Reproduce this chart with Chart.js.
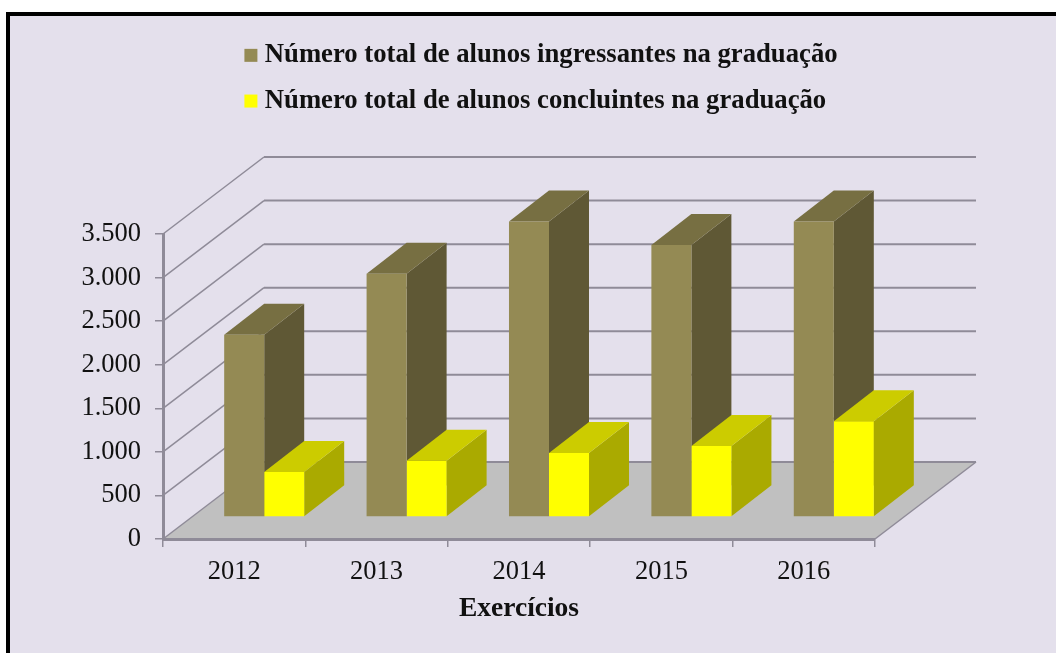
<!DOCTYPE html>
<html lang="pt-BR">
<head>
<meta charset="utf-8">
<script src="https://cdn.jsdelivr.net/npm/chart.js@4/dist/chart.umd.js"></script>
<style>
html,body{margin:0;padding:0;background:#fff;overflow:hidden}
#frame{position:absolute;left:6px;top:12px;right:0;bottom:0;background:#E4E0EC;border-left:4px solid #000;border-top:4px solid #000}
canvas{position:absolute;left:0;top:0}
</style>
</head>
<body>
<div id="frame"></div>
<canvas id="c" width="1056" height="653"></canvas>
<script>
const categories = ['2012','2013','2014','2015','2016'];
const ingressantes = [2090,2790,3390,3120,3390];
const concluintes = [515,645,735,815,1100];
const seriesNames = ['Número total de alunos ingressantes na graduação','Número total de alunos concluintes na graduação'];
const axisTitle = 'Exercícios';

const SERIF = '"Liberation Serif","Times New Roman",serif';
const GRID = '#8F8B98';
const WALL = {dx:101, dy:-77};
const BAR_SHIFT = {dx:30, dy:-22};
const BAR_DEPTH = {dx:40, dy:-31};
const FACES = [
  {front:'#948A54', top:'#776F42', side:'#5F5835'},
  {front:'#FFFF00', top:'#CCCC00', side:'#AAAA00'}
];
function poly(ctx, pts, fill){
  ctx.beginPath();
  pts.forEach((p,i)=> i ? ctx.lineTo(p[0],p[1]) : ctx.moveTo(p[0],p[1]));
  ctx.closePath();
  ctx.fillStyle = fill;
  ctx.fill();
}
const threeD = {
  id:'threeD',
  beforeLayout(chart){
    const lg = chart.legend;
    if (lg && !lg._fixed){
      const fit = lg.fit;
      lg.fit = function(){
        fit.call(this);
        this.height = 211;
        const w = Math.max(...this.lineWidths);
        this.lineWidths = this.lineWidths.map(()=>w);
      };
      lg._fixed = true;
    }
  },
  beforeDraw(chart){
    const ctx = chart.ctx, a = chart.chartArea, y = chart.scales.y;
    const bx = a.left + WALL.dx, rx = a.right + WALL.dx, by = a.bottom + WALL.dy;
    poly(ctx, [[a.left,a.bottom],[bx,by],[rx,by],[a.right,a.bottom]], '#C0C0C0');
    ctx.save();
    ctx.strokeStyle = GRID;
    y.ticks.forEach(t=>{
      const py = y.getPixelForValue(t.value);
      ctx.lineWidth = 1.5;
      ctx.beginPath(); ctx.moveTo(a.left,py); ctx.lineTo(bx,py+WALL.dy); ctx.stroke();
      ctx.lineWidth = 2;
      ctx.beginPath(); ctx.moveTo(bx,py+WALL.dy); ctx.lineTo(rx,py+WALL.dy); ctx.stroke();
    });
    ctx.lineWidth = 1.5;
    ctx.beginPath(); ctx.moveTo(a.right,a.bottom); ctx.lineTo(rx,by); ctx.stroke();
    ctx.restore();
  },
  beforeDatasetsDraw(chart){
    const ctx = chart.ctx;
    ctx.save();
    ctx.translate(BAR_SHIFT.dx, BAR_SHIFT.dy);
    FACES.forEach((f,i)=>{
      chart.getDatasetMeta(i).data.forEach(b=>{
        const l = b.x-b.width/2, r = b.x+b.width/2, t = b.y, s = b.base;
        const dx = BAR_DEPTH.dx, dy = BAR_DEPTH.dy;
        poly(ctx, [[r,s],[r+dx,s+dy],[r+dx,t+dy],[r,t]], f.side);
        poly(ctx, [[l,t],[l+dx,t+dy],[r+dx,t+dy],[r,t]], f.top);
      });
    });
    ctx.restore();
  },
  beforeDatasetDraw(chart){
    chart.ctx.save();
    chart.ctx.translate(BAR_SHIFT.dx, BAR_SHIFT.dy);
  },
  afterDatasetDraw(chart){ chart.ctx.restore(); }
};

new Chart(document.getElementById('c'), {
  type:'bar',
  plugins:[threeD],
  data:{
    labels:categories,
    datasets:[
      {label:seriesNames[0], data:ingressantes, backgroundColor:FACES[0].front, clip:false},
      {label:seriesNames[1], data:concluintes, backgroundColor:FACES[1].front, clip:false}
    ]
  },
  options:{
    responsive:false,
    animation:false,
    devicePixelRatio:1,
    layout:{padding:{left:32,right:0,top:23,bottom:0}},
    categoryPercentage:0.562,
    barPercentage:1,
    plugins:{
      tooltip:{enabled:false},
      legend:{
        position:'top',
        labels:{
          color:'#111',
          font:{family:SERIF,size:26.7,weight:'bold'},
          usePointStyle:true,
          pointStyle:'rect',
          boxWidth:1,
          boxHeight:13,
          padding:19
        }
      }
    },
    scales:{
      x:{
        grid:{drawOnChartArea:false,drawTicks:true,tickLength:8,color:GRID,lineWidth:1.5},
        border:{color:GRID,width:3},
        ticks:{color:'#111',font:{family:SERIF,size:26.5},padding:9,maxRotation:0},
        title:{display:true,text:axisTitle,color:'#111',font:{family:SERIF,size:27.5,weight:'bold'},padding:{top:0,bottom:28}},
        afterFit(s){s.height=114;}
      },
      y:{
        min:0,max:3500,
        grid:{drawOnChartArea:false,drawTicks:true,tickLength:8,color:GRID,lineWidth:1.5},
        border:{color:GRID,width:3},
        ticks:{stepSize:500,color:'#111',font:{family:SERIF,size:26.5},padding:14,
          callback:v=>String(v).replace(/\B(?=(\d{3})+$)/g,'.')},
        afterFit(s){s.width=131;}
      },
      spacer:{
        position:'right',
        display:true,
        grid:{display:false},
        border:{display:false},
        ticks:{display:false},
        afterFit(s){s.width=181;}
      }
    }
  }
});
</script>
</body>
</html>
